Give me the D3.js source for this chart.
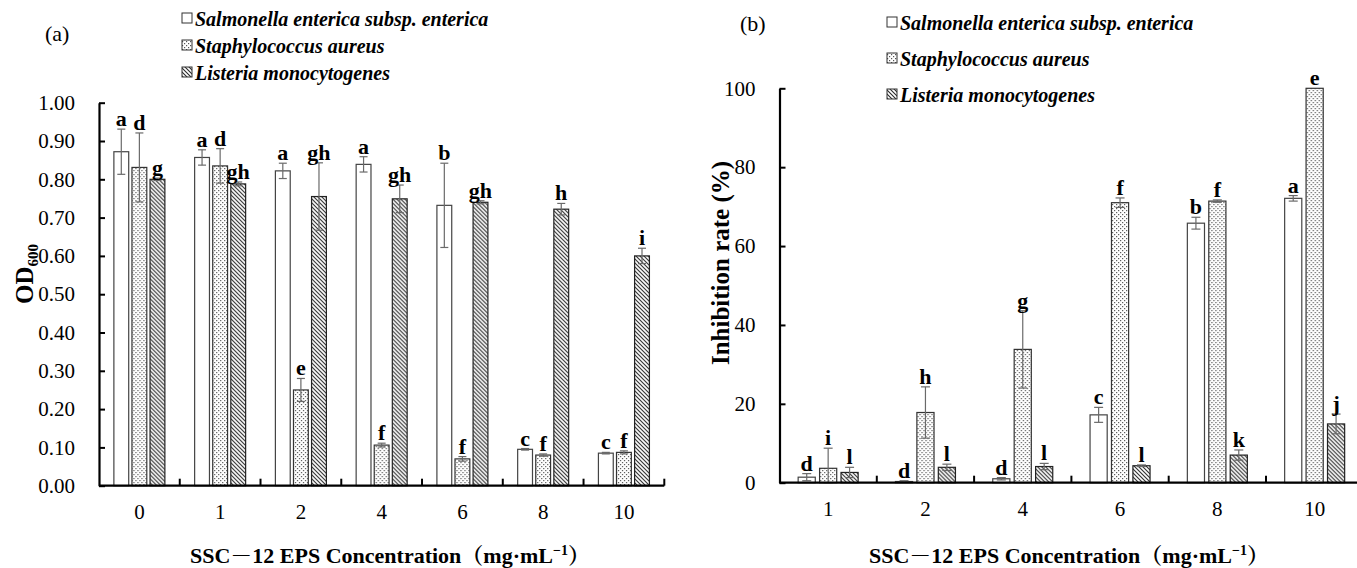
<!DOCTYPE html>
<html>
<head>
<meta charset="utf-8">
<script src="https://cdn.jsdelivr.net/npm/d3@7"></script>
<style>
  html, body { margin: 0; padding: 0; background: #fff; }
  svg { display: block; }
  text { font-family: "Liberation Serif", "Noto Serif CJK SC", "Noto Sans CJK SC", serif; fill: #000; }
</style>
</head>
<body>
<svg id="chart" width="1357" height="568"></svg>
<script>
// ---------------- data ----------------
const seriesNames = ["Salmonella enterica subsp. enterica", "Staphylococcus aureus", "Listeria monocytogenes"];
const seriesKeys = ["sal", "sta", "lis"];

// Panel (a): OD600
const categoriesA = ["0", "1", "2", "4", "6", "8", "10"];
const odSal = [0.872, 0.857, 0.822, 0.839, 0.732, 0.095, 0.085];
const odSalErr = [0.059, 0.020, 0.020, 0.020, 0.110, 0.002, 0.002];
const odSta = [0.831, 0.835, 0.250, 0.106, 0.070, 0.080, 0.087];
const odStaErr = [0.090, 0.045, 0.030, 0.005, 0.006, 0.003, 0.004];
const odLis = [0.800, 0.788, 0.755, 0.749, 0.740, 0.722, 0.600];
const odLisErr = [0.003, 0.005, 0.088, 0.036, 0.004, 0.015, 0.020];
const lettersSalA = ["a", "a", "a", "a", "b", "c", "c"];
const lettersStaA = ["d", "d", "e", "f", "f", "f", "f"];
const lettersLisA = ["g", "gh", "gh", "gh", "gh", "h", "i"];
const yTicksA = [0, 0.1, 0.2, 0.3, 0.4, 0.5, 0.6, 0.7, 0.8, 0.9, 1.0];

// Panel (b): inhibition rate (%)
const categoriesB = ["1", "2", "4", "6", "8", "10"];
const inhSal = [1.4, 0.3, 1.0, 17.2, 65.8, 72.1];
const inhSalErr = [0.9, 0.2, 0.3, 1.9, 1.5, 0.7];
const inhSta = [3.65, 17.8, 33.8, 71.0, 71.4, 100];
const inhStaErr = [5.1, 6.5, 9.8, 1.2, 0.3, 0];
const inhLis = [2.6, 3.9, 4.1, 4.3, 7.0, 14.9];
const inhLisErr = [1.3, 0.8, 0.8, 0.2, 1.3, 2.5];
const lettersSalB = ["d", "d", "d", "c", "b", "a"];
const lettersStaB = ["i", "h", "g", "f", "f", "e"];
const lettersLisB = ["l", "l", "l", "l", "k", "j"];
const yTicksB = [0, 20, 40, 60, 80, 100];

// ---------------- drawing ----------------
const svg = d3.select("#chart");
svg.append("rect").attr("width", 1357).attr("height", 568).attr("fill", "#fff");

const defs = svg.append("defs");
// dotted pattern (Staphylococcus)
const pDot = defs.append("pattern").attr("id", "dots").attr("patternUnits", "userSpaceOnUse")
  .attr("width", 4).attr("height", 4);
pDot.append("rect").attr("width", 4).attr("height", 4).attr("fill", "#fff");
pDot.append("rect").attr("x", 0).attr("y", 0).attr("width", 1.2).attr("height", 1.2).attr("fill", "#555");
pDot.append("rect").attr("x", 2).attr("y", 2).attr("width", 1.2).attr("height", 1.2).attr("fill", "#555");
// hatch pattern (Listeria) "\\\\"
const pHatch = defs.append("pattern").attr("id", "hatch").attr("patternUnits", "userSpaceOnUse")
  .attr("width", 4).attr("height", 4);
pHatch.append("rect").attr("width", 4).attr("height", 4).attr("fill", "#fff");
pHatch.append("path").attr("d", "M-1,-1 L5,5 M-1,3 L1,5 M3,-1 L5,1")
  .attr("stroke", "#2a2a2a").attr("stroke-width", 1.1);

const fills = { sal: "#fff", sta: "url(#dots)", lis: "url(#hatch)" };
const strokes = { sal: "#444", sta: "#333", lis: "#222" };

function buildRows(cats, vals, errs, letters) {
  return cats.map((c, i) => ({
    cat: c,
    items: seriesKeys.map((k, j) => ({ key: k, v: vals[j][i], e: errs[j][i], letter: letters[j][i] }))
  }));
}

function panel(opt) {
  const g = svg.append("g");
  const x = d3.scaleBand().domain(opt.cats).range(opt.xr).padding(0);
  const y = d3.scaleLinear().domain(opt.yd).range(opt.yr);
  const half = opt.groupW / 2;
  const x1 = d3.scaleBand().domain(seriesKeys).range([-half, half]).paddingInner(opt.inner);

  const rows = buildRows(opt.cats, opt.vals, opt.errs, opt.letters);
  const grp = g.selectAll("g.grp").data(rows).join("g")
    .attr("transform", d => `translate(${x(d.cat) + x.bandwidth() / 2},0)`);

  // bars
  grp.selectAll("rect.bar").data(d => d.items).join("rect")
    .attr("x", d => x1(d.key))
    .attr("y", d => y(d.v))
    .attr("width", x1.bandwidth())
    .attr("height", d => y(0) - y(d.v))
    .attr("fill", d => fills[d.key])
    .attr("stroke", d => strokes[d.key])
    .attr("stroke-width", 1.2);

  // error bars
  const capW = opt.capW;
  const eb = grp.selectAll("g.err").data(d => d.items.filter(it => it.e > 0)).join("g")
    .attr("transform", d => `translate(${x1(d.key) + x1.bandwidth() / 2},0)`);
  eb.append("line").attr("x1", 0).attr("x2", 0)
    .attr("y1", d => y(d.v + d.e)).attr("y2", d => y(Math.max(0, d.v - d.e)));
  eb.append("line").attr("x1", -capW / 2).attr("x2", capW / 2)
    .attr("y1", d => y(d.v + d.e)).attr("y2", d => y(d.v + d.e));
  eb.append("line").attr("x1", -capW / 2).attr("x2", capW / 2)
    .attr("y1", d => y(Math.max(0, d.v - d.e))).attr("y2", d => y(Math.max(0, d.v - d.e)));
  eb.selectAll("line").attr("stroke", "#6a6a6a").attr("stroke-width", 1.2);

  // significance letters
  grp.selectAll("text.lt").data(d => d.items).join("text")
    .attr("x", d => x1(d.key) + x1.bandwidth() / 2)
    .attr("y", d => y(d.v + d.e) - 3)
    .attr("text-anchor", "middle")
    .attr("font-size", 22).attr("font-weight", "bold")
    .text(d => d.letter);

  // y axis
  const ya = g.append("g").attr("transform", `translate(${opt.xr[0]},0)`)
    .call(d3.axisLeft(y).tickValues(opt.yTicks).tickFormat(opt.yFmt).tickSizeInner(-6).tickSizeOuter(0).tickPadding(24));
  ya.select(".domain").attr("stroke", "#000").attr("stroke-width", 2.2);
  ya.selectAll(".tick line").attr("stroke", "#000").attr("stroke-width", 2);
  ya.selectAll(".tick text").attr("font-size", 21).attr("font-family", "Liberation Serif").attr("fill", "#111");

  // x axis (labels at band centres, ticks at band boundaries)
  const xa = g.append("g").attr("transform", `translate(0,${y(0)})`)
    .call(d3.axisBottom(x).tickSizeInner(0).tickSizeOuter(0).tickPadding(18));
  xa.select(".domain").attr("stroke", "#000").attr("stroke-width", 2.2)
    .attr("d", `M${opt.xr[0]},0H${opt.xr[1]}`);
  xa.selectAll(".tick text").attr("font-size", 21).attr("font-family", "Liberation Serif").attr("fill", "#111");
  xa.selectAll("line.bnd").data(opt.cats).join("line").attr("class", "bnd")
    .attr("x1", d => x(d) + x.bandwidth()).attr("x2", d => x(d) + x.bandwidth())
    .attr("y1", 0).attr("y2", -7).attr("stroke", "#000").attr("stroke-width", 2);

  // x title
  const xt = g.append("text").attr("x", opt.xTitleX).attr("y", 563)
    .attr("text-anchor", "middle").attr("font-size", 22).attr("font-weight", "bold");
  xt.append("tspan").text("SSC－12 EPS Concentration（mg·mL");
  xt.append("tspan").attr("font-size", 14).attr("dy", -8).text("−1");
  xt.append("tspan").attr("dy", 8).text("）");

  // panel tag
  g.append("text").attr("x", opt.tag[0]).attr("y", opt.tag[1]).attr("font-size", 22).text(opt.tagText);

  // legend
  const lg = g.append("g").attr("transform", `translate(${opt.legend[0]},${opt.legend[1]})`);
  const li = lg.selectAll("g").data(seriesKeys).join("g")
    .attr("transform", (d, i) => `translate(0,${i * opt.legendStep})`);
  li.append("rect").attr("x", 0).attr("y", -13).attr("width", 10).attr("height", 10)
    .attr("fill", d => fills[d]).attr("stroke", "#333").attr("stroke-width", 1);
  li.append("text").attr("x", 13).attr("y", 0)
    .attr("font-size", 20).attr("font-weight", "bold").attr("font-style", "italic")
    .text((d, i) => seriesNames[i]);

  return g;
}

// Panel (a)
panel({
  cats: categoriesA,
  vals: [odSal, odSta, odLis], errs: [odSalErr, odStaErr, odLisErr],
  letters: [lettersSalA, lettersStaA, lettersLisA],
  xr: [99, 664.3], yd: [0, 1], yr: [485.7, 102.7],
  groupW: 51, inner: 0.18, capW: 8,
  yTicks: yTicksA, yFmt: d3.format(".2f"),
  xTitleX: 390, tag: [45, 41], tagText: "(a)",
  legend: [182, 26], legendStep: 27
});

// Panel (b)
panel({
  cats: categoriesB,
  vals: [inhSal, inhSta, inhLis], errs: [inhSalErr, inhStaErr, inhLisErr],
  letters: [lettersSalB, lettersStaB, lettersLisB],
  xr: [779.5, 1363.3], yd: [0, 100], yr: [482.7, 88.3],
  groupW: 60, inner: 0.2, capW: 9,
  yTicks: yTicksB, yFmt: d3.format("d"),
  xTitleX: 1069, tag: [740, 31], tagText: "(b)",
  legend: [887, 30], legendStep: 36
});

// y-axis titles
const ta = svg.append("text").attr("transform", "translate(33,274) rotate(-90)")
  .attr("text-anchor", "middle").attr("font-size", 25).attr("font-weight", "bold");
ta.append("tspan").text("OD");
ta.append("tspan").attr("font-size", 15).attr("dy", 5).text("600");

svg.append("text").attr("transform", "translate(729,263) rotate(-90)")
  .attr("text-anchor", "middle").attr("font-size", 25).attr("font-weight", "bold")
  .text("Inhibition rate (%)");
</script>
</body>
</html>
